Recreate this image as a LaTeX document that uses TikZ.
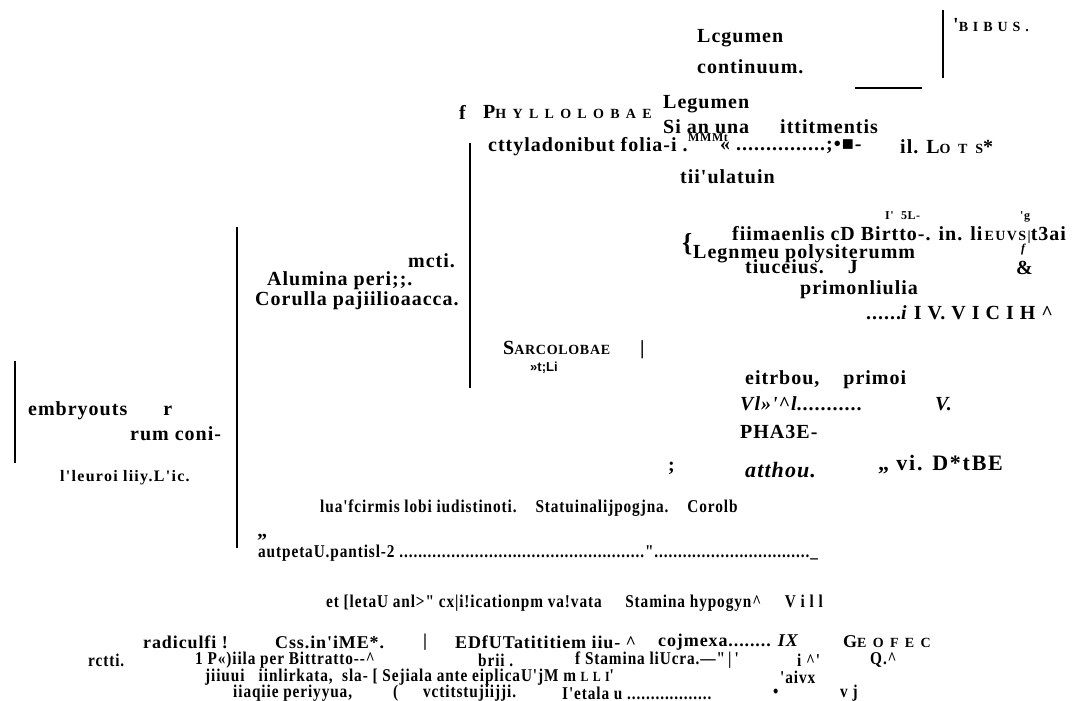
\documentclass[tikz,border=0pt]{standalone}
\usepackage{fontspec}
\newfontfamily\serif{Liberation Serif}[LetterSpace=5]
\newfontfamily\condfont{Liberation Serif}[FakeStretch=0.85, LetterSpace=5]
\newfontfamily\plainsans{Liberation Sans}
\usetikzlibrary{positioning}
\tikzset{
  txt/.style={anchor=west, inner sep=0pt, text=black},
  big/.style={txt, font=\serif\bfseries\fontsize{20}{22}\selectfont},
  mid/.style={txt, font=\serif\bfseries\fontsize{20}{22}\selectfont},
  sml/.style={txt, font=\condfont\bfseries\fontsize{18}{19}\selectfont},
  wide/.style={txt, font=\serif\bfseries\fontsize{18}{19}\selectfont},
  tiny/.style={txt, font=\serif\bfseries\fontsize{12}{13}\selectfont},
  bar/.style={draw=black, line width=2.6pt},
  thinbar/.style={draw=black, line width=1.8pt}
}
% letter-spaced small capitals
\newcommand{\smc}[2][30]{{\fontsize{14}{15}\selectfont\addfontfeature{LetterSpace=#1}#2}}

\begin{document}
\begin{tikzpicture}[x=1pt, y=-1pt]
  \useasboundingbox (0,0) rectangle (1092,701);

  % brackets
  \coordinate (bA1) at (15,361);  \coordinate (bA2) at (15,463);
  \coordinate (bB1) at (237,227); \coordinate (bB2) at (237,548);
  \coordinate (bC1) at (470,143); \coordinate (bC2) at (470,388);
  \coordinate (bD1) at (943,10);  \coordinate (bD2) at (943,78);
  \coordinate (hL1) at (855,88);  \coordinate (hL2) at (922,88);
  \draw[bar] (bA1) -- (bA2);
  \draw[thinbar] (bB1) -- (bB2);
  \draw[bar] (bC1) -- (bC2);
  \draw[thinbar] (bD1) -- (bD2);
  \draw[bar] (hL1) -- (hL2);

  % top group
  \node[big] (lcg) at (697,38) {Lcgumen};
  \node[big] (cont) at (697,67) {continuum.};
  \node[mid] (bibus) at (953,25) {'\smc[35]{BIBUS.}};
  \node[mid] (f1) at (459,112) {f};
  \node[mid] (phyl) at (483,112) {P\smc[45]{HYLLOLOBAE}};
  \node[mid] (leg1) at (663,104) {Legumen};
  \node[mid] (sian) at (663,127) {Si an una};
  \node[mid] (ittit) at (780,127) {ittitmentis};
  \node[mid] (ctty) at (488,147) {cttyladonibut folia-i .};
  \node[tiny] (mmmt) at (688,138) {MMMt};
  \node[mid] (dots1) at (720,147) {« ...............;•■-};
  \node[mid] (lots) at (900,147) {il. L\smc[55]{OTS}*};
  \node[mid] (tiiu) at (680,177) {tii'ulatuin};

  % legumen polyspermum group
  \node[tiny] (five) at (885,216) {I'\ \ 5L-};
  \node[tiny] (gq) at (1020,217) {'g};
  \node[txt, font=\serif\bfseries\fontsize{26}{28}\selectfont] (brace) at (682,244) {\{};
  \node[big] (fiim) at (732,235) {fiimaenlis cD Birtto-. in. li\smc[10]{\,EUVS|}t3ai};
  \node[big] (legn) at (693,254) {Legnmeu polysiterumm};
  \node[tiny] (ff) at (1021,250) {\textit{f}};
  \node[mid] (amp) at (1016,268) {\&};
  \node[mid] (tiuc) at (745,267) {tiuceius.\ \ \ \ J};
  \node[mid] (prim) at (800,290) {primonliulia};
  \node[mid] (iv) at (866,313) {......\textit{i} I V. V I C I H \^{}};

  % second column
  \node[mid] (mcti) at (408,261) {mcti.};
  \node[mid] (alum) at (267,281) {Alumina peri;;.};
  \node[mid] (coru) at (255,301) {Corulla pajiilioaacca.};
  \node[mid] (sarc) at (503,348) {S\smc[5]{ARCOLOBAE}};
  \node[mid] (vbar) at (640,350) {|};
  \node[txt, font=\plainsans\bfseries\fontsize{13}{14}\selectfont] (tli) at (530,368) {»t;Li};

  % first column
  \node[mid] (emb) at (28,411) {embryouts\ \ \ \ \ \ r};
  \node[mid] (rum) at (130,434) {rum coni-};
  \node[txt, font=\serif\bfseries\fontsize{16}{17}\selectfont\addfontfeature{LetterSpace=8}] (pleur) at (60,478) {l'leuroi liiy.L'ic.};

  % sarcolobae group
  \node[mid] (eitr) at (745,380) {eitrbou,\ \ \ \ primoi};
  \node[mid] (vl) at (740,404) {\textit{Vl»'\^{}l}...........};
  \node[mid] (vv) at (935,404) {\textit{V.}};
  \node[mid] (pha) at (740,432) {PHA3E-};
  \node[mid] (semi) at (668,468) {;};
  \node[big, font=\serif\bfseries\itshape\fontsize{22}{24}\selectfont] (atth) at (745,470) {atthou.};
  \node[txt, font=\serif\bfseries\fontsize{22}{24}\selectfont\addfontfeature{LetterSpace=8}] (vi) at (878,465) {„ vi. D*tBE};

  % lower rows
  \node[sml] (lua) at (320,508) {lua'fcirmis lobi iudistinoti.\ \ \ \ Statuinalijpogjna.\ \ \ \ Corolb};
  \node[mid] (quot) at (257,541) {”};
  \node[sml] (autp) at (258,553) {autpetaU.pantisl-2 ....................................................".................................\_};
  \node[sml] (etl) at (326,603) {et [letaU anl>" cx|i!icationpm va!vata\ \ \ \ \ Stamina hypogyn\^{}\ \ \ \ \ V i l l};

  \node[wide] (radi) at (143,642) {radiculfi !};
  \node[wide] (css) at (275,642) {Css.in'iME*.};
  \node[wide] (pipe) at (423,642) {|};
  \node[wide] (edf) at (455,642) {EDfUTatititiem iiu- \^{}};
  \node[wide] (coj) at (658,642) {cojmexa........ \textit{IX}};
  \node[wide] (geo) at (843,642) {G\smc[45]{EOFEC}};

  \node[sml] (rct) at (88,660) {rctti.};
  \node[sml] (pila) at (195,660) {1 P«)iila per Bittratto--\^{}};
  \node[sml] (brii) at (478,660) {brii .};
  \node[sml] (stam) at (575,660) {f Stamina liUcra.—"\,|\,'};
  \node[sml] (ihat) at (797,660) {i \^{}'};
  \node[sml] (qq) at (870,660) {Q.\^{}};

  \node[sml] (jiiu) at (205,677) {jiiuui\ \ \ iinlirkata,\ \ sla- [ Sejiala ante eiplicaU'jM m \smc{LLI}'};
  \node[sml] (aivx) at (780,677) {'aivx};

  \node[sml] (iiaq) at (233,693) {iiaqiie periyyua,};
  \node[sml] (paren) at (393,693) {(};
  \node[sml] (vcti) at (423,693) {vctitstujiijji.};
  \node[sml] (peta) at (562,693) {I'etala u ..................};
  \node[sml] (bull) at (773,693) {•};
  \node[sml] (vj) at (840,693) {v j};
\end{tikzpicture}
\end{document}
